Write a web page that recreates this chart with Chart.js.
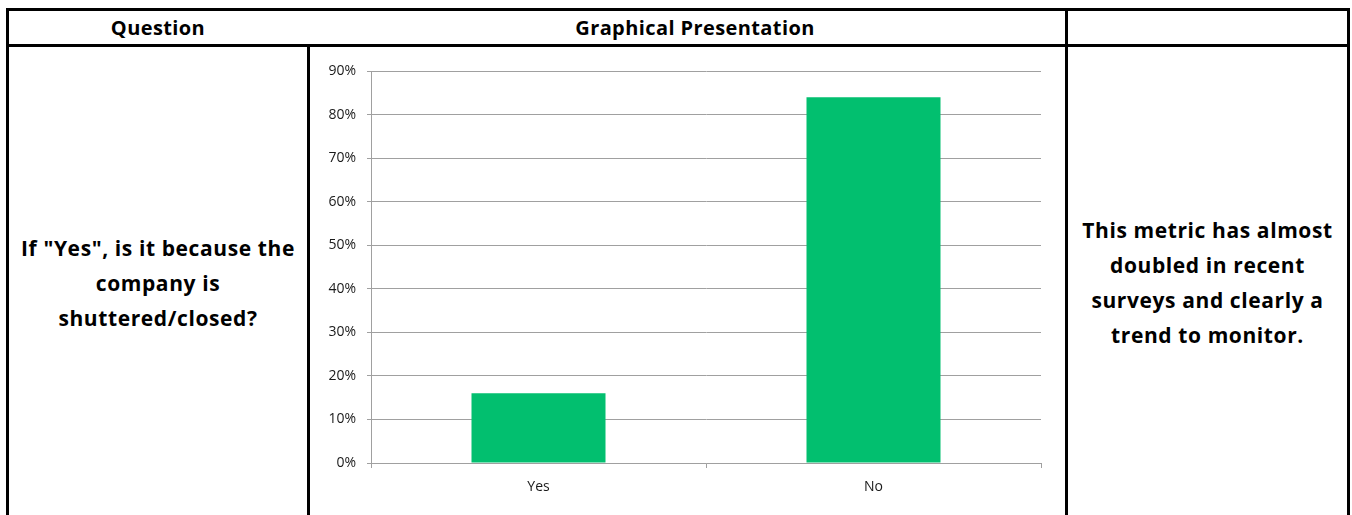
<!DOCTYPE html>
<html>
<head>
<meta charset="utf-8">
<script src="https://cdn.jsdelivr.net/npm/chart.js@4"></script>
<style>
  body { margin: 0; background: #fff; width: 1352px; height: 515px; overflow: hidden; position: relative; }
  .rule { position: absolute; background: #000; }
  .cell { position: absolute; display: flex; align-items: center; justify-content: center;
          text-align: center; font-family: "Open Sans", "Noto Sans", sans-serif; font-weight: bold; color: #000; }
  .head { font-size: 20px; letter-spacing: 0.4px; }
  .body { font-size: 21px; line-height: 35px; letter-spacing: 0.6px; }
  #chartBox { position: absolute; left: 310px; top: 48px; width: 755px; height: 467px; }
</style>
</head>
<body>
<!-- table rules -->
<div class="rule" style="left:6px;top:8px;width:1344px;height:3px"></div>
<div class="rule" style="left:6px;top:44px;width:1344px;height:3px"></div>
<div class="rule" style="left:6px;top:8px;width:3px;height:507px"></div>
<div class="rule" style="left:307px;top:44px;width:3px;height:471px"></div>
<div class="rule" style="left:1065px;top:8px;width:3px;height:507px"></div>
<div class="rule" style="left:1347px;top:8px;width:3px;height:507px"></div>

<div class="cell head" style="left:9px;top:11px;width:298px;height:33px">Question</div>
<div class="cell head" style="left:445px;top:11px;width:500px;height:33px">Graphical Presentation</div>

<div class="cell body" style="left:4px;top:47px;width:308px;height:472px">If "Yes", is it because the<br>company is<br>shuttered/closed?</div>
<div class="cell body" style="left:1060px;top:47px;width:295px;height:472px">This metric has almost<br>doubled in recent<br>surveys and clearly a<br>trend to monitor.</div>

<div id="chartBox"><canvas id="bar-chart" width="755" height="467"></canvas></div>

<script>
  // answers and their share of respondents (%)
  var categories = ["Yes", "No"];
  var shares = [16, 84];
  var yTicks = [0, 10, 20, 30, 40, 50, 60, 70, 80, 90];

  var axisGrey = '#a0a0a0';
  var tickFont = { family: '"Open Sans", "Liberation Sans", sans-serif', size: 14 };

  var barChart = new Chart(document.getElementById("bar-chart"), {
    type: 'bar',
    data: {
      labels: categories,
      datasets: [{
        data: shares,
        backgroundColor: '#02bf6f',
        borderWidth: 0,
        barPercentage: 0.4,
        categoryPercentage: 1
      }]
    },
    options: {
      responsive: false,
      animation: false,
      layout: { padding: { left: 0, right: 24, top: 23, bottom: 0 } },
      plugins: { legend: { display: false }, tooltip: { enabled: false } },
      scales: {
        x: {
          offset: true,
          grid: { display: true, drawOnChartArea: false, offset: true, tickLength: 5, color: axisGrey },
          border: { color: axisGrey },
          ticks: { color: '#1a1a1a', font: tickFont, padding: 11 },
          afterFit: function(s) { s.height = 52; }
        },
        y: {
          min: yTicks[0],
          max: yTicks[yTicks.length - 1],
          afterBuildTicks: function(s) { s.ticks = yTicks.map(function(v) { return { value: v }; }); },
          grid: { color: axisGrey, tickLength: 4 },
          border: { color: axisGrey },
          ticks: { color: '#1a1a1a', font: tickFont, padding: 11, callback: function(v) { return v + '%'; } },
          afterFit: function(s) { s.width = 61; }
        }
      }
    }
  });
</script>
</body>
</html>
